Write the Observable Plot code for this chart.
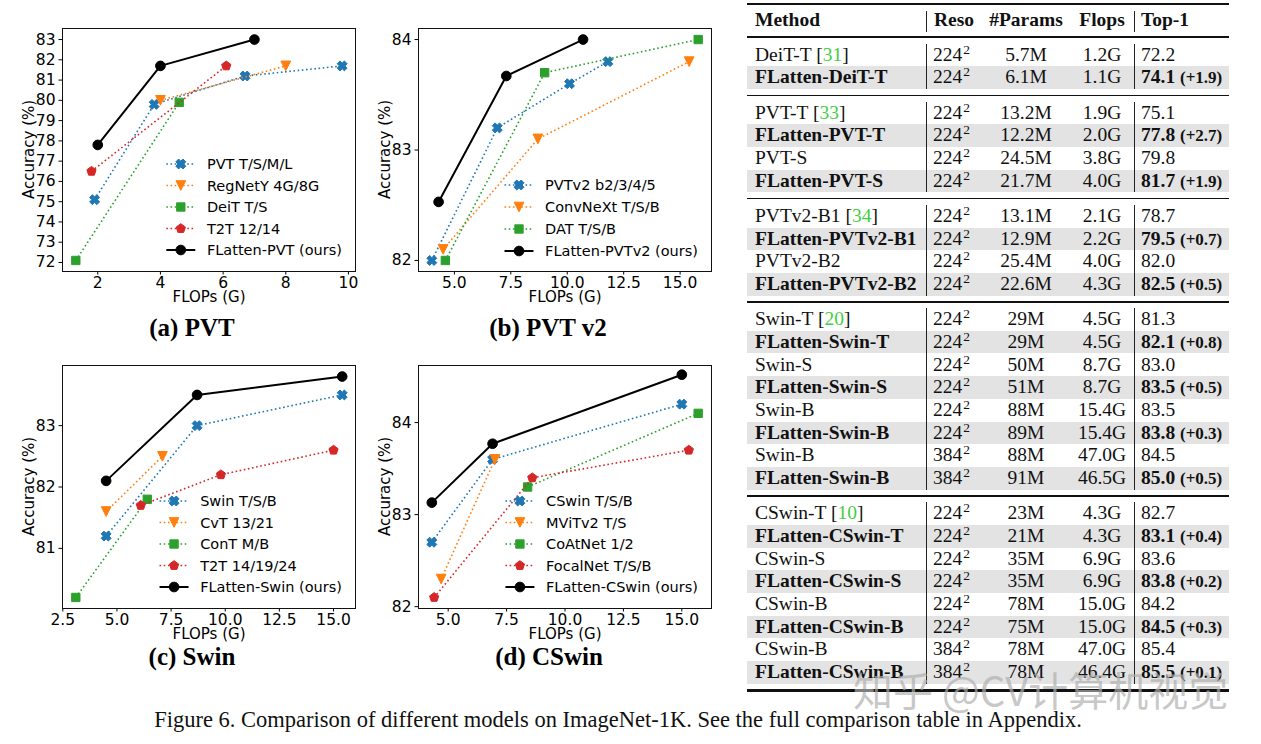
<!DOCTYPE html>
<html><head><meta charset="utf-8">
<script src="https://cdn.jsdelivr.net/npm/d3@7"></script>
<script src="https://cdn.jsdelivr.net/npm/@observablehq/plot@0.6"></script>
<style>
html,body{margin:0;padding:0;background:#fff;}
#page{position:relative;width:1261px;height:744px;overflow:hidden;background:#fff;}
.panel{position:absolute;}
.ptitle{position:absolute;font-family:"Liberation Serif","Times New Roman",serif;font-weight:bold;font-size:25px;transform:translate(-50%,-50%);white-space:nowrap;color:#000;}
.tc{position:absolute;font-family:"Liberation Serif","Times New Roman",serif;font-size:19.5px;color:#111;white-space:nowrap;}
.rule{position:absolute;background:#111;}
.shade{position:absolute;background:#e3e3e3;}
.vline{position:absolute;width:1px;background:#222;}
.caption{position:absolute;font-family:"Liberation Serif","Times New Roman",serif;font-size:22.5px;color:#111;white-space:nowrap;transform:translate(-50%,-50%);}
.wm{position:absolute;font-family:"Noto Sans CJK SC",sans-serif;font-size:40px;color:rgba(175,175,175,0.7);white-space:nowrap;transform:translateY(-50%);}
</style></head>
<body><div id="page"></div>
<script>
// ---------------- Panel (a) PVT ----------------
const aPvtFlops = [1.9, 3.8, 6.7, 9.8],  aPvtAcc = [75.1, 79.8, 81.2, 81.7];
const aRegFlops = [4.0, 8.0],            aRegAcc = [80.0, 81.7];
const aDeitFlops = [1.3, 4.6],           aDeitAcc = [72.1, 79.9];
const aT2tFlops = [1.8, 6.1],            aT2tAcc = [76.5, 81.7];
const aOursFlops = [2.0, 4.0, 7.0],      aOursAcc = [77.8, 81.7, 83.0];
const aLabels = ["PVT T/S/M/L", "RegNetY 4G/8G", "DeiT T/S", "T2T 12/14", "FLatten-PVT (ours)"];
const aXTicks = [2, 4, 6, 8, 10];
const aYTicks = [72, 73, 74, 75, 76, 77, 78, 79, 80, 81, 82, 83];

// ---------------- Panel (b) PVT v2 ----------------
const bPvt2Flops = [4.0, 6.9, 10.1, 11.8], bPvt2Acc = [82.0, 83.2, 83.6, 83.8];
const bCnxFlops = [4.5, 8.7, 15.4],        bCnxAcc = [82.1, 83.1, 83.8];
const bDatFlops = [4.6, 9.0, 15.8],        bDatAcc = [82.0, 83.7, 84.0];
const bOursFlops = [4.3, 7.3, 10.7],       bOursAcc = [82.53, 83.67, 84.0];
const bLabels = ["PVTv2 b2/3/4/5", "ConvNeXt T/S/B", "DAT T/S/B", "FLatten-PVTv2 (ours)"];
const bXTicks = [5, 7.5, 10, 12.5, 15];
const bYTicks = [82, 83, 84];

// ---------------- Panel (c) Swin ----------------
const cSwinFlops = [4.5, 8.7, 15.4],  cSwinAcc = [81.2, 83.0, 83.5];
const cCvtFlops = [4.5, 7.1],         cCvtAcc = [81.6, 82.5];
const cContFlops = [3.1, 6.4],        cContAcc = [80.2, 81.8];
const cT2tFlops = [6.1, 9.8, 15.0],   cT2tAcc = [81.7, 82.2, 82.6];
const cOursFlops = [4.5, 8.7, 15.4],  cOursAcc = [82.1, 83.5, 83.8];
const cLabels = ["Swin T/S/B", "CvT 13/21", "ConT M/B", "T2T 14/19/24", "FLatten-Swin (ours)"];
const cXTicks = [2.5, 5, 7.5, 10, 12.5, 15];
const cYTicks = [81, 82, 83];

// ---------------- Panel (d) CSwin ----------------
const dCswinFlops = [4.3, 6.9, 15.0],   dCswinAcc = [82.7, 83.6, 84.2];
const dMvitFlops = [4.7, 7.0],          dMvitAcc = [82.3, 83.6];
const dCoatFlops = [8.4, 15.7],         dCoatAcc = [83.3, 84.1];
const dFocalFlops = [4.4, 8.6, 15.3],   dFocalAcc = [82.1, 83.4, 83.7];
const dOursFlops = [4.3, 6.9, 15.0],    dOursAcc = [83.13, 83.77, 84.52];
const dLabels = ["CSwin T/S/B", "MViTv2 T/S", "CoAtNet 1/2", "FocalNet T/S/B", "FLatten-CSwin (ours)"];
const dXTicks = [5, 7.5, 10, 12.5, 15];
const dYTicks = [82, 83, 84];

// ---------------- Table ----------------
const tMethods = ["DeiT-T","FLatten-DeiT-T","PVT-T","FLatten-PVT-T","PVT-S","FLatten-PVT-S",
  "PVTv2-B1","FLatten-PVTv2-B1","PVTv2-B2","FLatten-PVTv2-B2",
  "Swin-T","FLatten-Swin-T","Swin-S","FLatten-Swin-S","Swin-B","FLatten-Swin-B","Swin-B","FLatten-Swin-B",
  "CSwin-T","FLatten-CSwin-T","CSwin-S","FLatten-CSwin-S","CSwin-B","FLatten-CSwin-B","CSwin-B","FLatten-CSwin-B"];
const tCites = ["31","","33","","","","34","","","","20","","","","","","","","10","","","","","","",""];
const tReso = ["224","224","224","224","224","224","224","224","224","224","224","224","224","224","224","224","384","384",
  "224","224","224","224","224","224","384","384"];
const tParams = ["5.7M","6.1M","13.2M","12.2M","24.5M","21.7M","13.1M","12.9M","25.4M","22.6M",
  "29M","29M","50M","51M","88M","89M","88M","91M","23M","21M","35M","35M","78M","75M","78M","78M"];
const tFlops = ["1.2G","1.1G","1.9G","2.0G","3.8G","4.0G","2.1G","2.2G","4.0G","4.3G",
  "4.5G","4.5G","8.7G","8.7G","15.4G","15.4G","47.0G","46.5G","4.3G","4.3G","6.9G","6.9G","15.0G","15.0G","47.0G","46.4G"];
const tTop1 = ["72.2","74.1","75.1","77.8","79.8","81.7","78.7","79.5","82.0","82.5",
  "81.3","82.1","83.0","83.5","83.5","83.8","84.5","85.0","82.7","83.1","83.6","83.8","84.2","84.5","85.4","85.5"];
const tGain = ["","+1.9","","+2.7","","+1.9","","+0.7","","+0.5",
  "","+0.8","","+0.5","","+0.3","","+0.5","","+0.4","","+0.2","","+0.3","","+0.1"];
const tGroups = [2, 4, 4, 8, 8];
const tHeader = ["Method", "Reso", "#Params", "Flops", "Top-1"];

const captionText = "Figure 6. Comparison of different models on ImageNet-1K. See the full comparison table in Appendix.";
const watermarkText = "知乎 @CV计算机视觉";

// ---------------- symbols ----------------
function poly(ctx, pts){ ctx.moveTo(pts[0][0], pts[0][1]); for (let i = 1; i < pts.length; i++) ctx.lineTo(pts[i][0], pts[i][1]); ctx.closePath(); }
const symX = {draw(ctx, size){ const r = Math.sqrt(size/Math.PI); const L = r*1.15, w = r*0.45;
  const base = [[w,-L],[w,-w],[L,-w],[L,w],[w,w],[w,L],[-w,L],[-w,w],[-L,w],[-L,-w],[-w,-w],[-w,-L]];
  const c = Math.SQRT1_2; poly(ctx, base.map(([x,y]) => [c*(x-y), c*(x+y)])); }};
const symTriDown = {draw(ctx, size){ const r = Math.sqrt(size/Math.PI)*1.1; poly(ctx, [[0,r],[-r,-r],[r,-r]]); }};
const symSquare = {draw(ctx, size){ const r = Math.sqrt(size/Math.PI)*0.95; poly(ctx, [[-r,-r],[r,-r],[r,r],[-r,r]]); }};
const symPent = {draw(ctx, size){ const r = Math.sqrt(size/Math.PI)*1.1; const pts = [];
  for (let k = 0; k < 5; k++){ const a = -Math.PI/2 + k*2*Math.PI/5; pts.push([r*Math.cos(a), r*Math.sin(a)]); } poly(ctx, pts); }};
const symCircle = {draw(ctx, size){ const r = Math.sqrt(size/Math.PI)*1.1; ctx.moveTo(r, 0); ctx.arc(0, 0, r, 0, 2*Math.PI); }};

const BLUE = "#1f77b4", ORANGE = "#ff7f0e", GREEN = "#2ca02c", RED = "#d62728", BLACK = "#000000";
const STYLES = [[BLUE, symX], [ORANGE, symTriDown], [GREEN, symSquare], [RED, symPent]];

function series(xs, ys, label, idx, ours){
  const [color, sym] = ours ? [BLACK, symCircle] : STYLES[idx];
  return {pts: xs.map((x, i) => ({x, y: ys[i]})), label, color, sym, ours};
}

const fmt1 = d3.format(".1f"), fmtD = d3.format("d");
const panels = [
  {left: 0, top: 0, title: "(a) PVT", tx: 192, ty: 328,
   xDomain: [0.875, 10.225], yDomain: [71.555, 83.545], xTicks: aXTicks, yTicks: aYTicks, xFormat: fmtD,
   series: [series(aPvtFlops, aPvtAcc, aLabels[0], 0), series(aRegFlops, aRegAcc, aLabels[1], 1),
            series(aDeitFlops, aDeitAcc, aLabels[2], 2), series(aT2tFlops, aT2tAcc, aLabels[3], 3),
            series(aOursFlops, aOursAcc, aLabels[4], 0, true)], legendSpacing: 21.5, legendBottom: 21},
  {left: 356, top: 0, title: "(b) PVT v2", tx: 548, ty: 328,
   xDomain: [3.41, 16.39], yDomain: [81.9, 84.1], xTicks: bXTicks, yTicks: bYTicks, xFormat: fmt1,
   series: [series(bPvt2Flops, bPvt2Acc, bLabels[0], 0), series(bCnxFlops, bCnxAcc, bLabels[1], 1),
            series(bDatFlops, bDatAcc, bLabels[2], 2), series(bOursFlops, bOursAcc, bLabels[3], 0, true)],
   legendSpacing: 22, legendBottom: 20},
  {left: 0, top: 337, title: "(c) Swin", tx: 192, ty: 657,
   xDomain: [2.485, 16.015], yDomain: [80.02, 83.98], xTicks: cXTicks, yTicks: cYTicks, xFormat: fmt1,
   series: [series(cSwinFlops, cSwinAcc, cLabels[0], 0), series(cCvtFlops, cCvtAcc, cLabels[1], 1),
            series(cContFlops, cContAcc, cLabels[2], 2), series(cT2tFlops, cT2tAcc, cLabels[3], 3),
            series(cOursFlops, cOursAcc, cLabels[4], 0, true)], legendSpacing: 21.5, legendBottom: 21},
  {left: 356, top: 337, title: "(d) CSwin", tx: 549, ty: 657,
   xDomain: [3.73, 16.27], yDomain: [81.98, 84.62], xTicks: dXTicks, yTicks: dYTicks, xFormat: fmt1,
   series: [series(dCswinFlops, dCswinAcc, dLabels[0], 0), series(dMvitFlops, dMvitAcc, dLabels[1], 1),
            series(dCoatFlops, dCoatAcc, dLabels[2], 2), series(dFocalFlops, dFocalAcc, dLabels[3], 3),
            series(dOursFlops, dOursAcc, dLabels[4], 0, true)], legendSpacing: 21.5, legendBottom: 21}
];

const page = document.getElementById("page");
const canvas = document.createElement("canvas");
const mctx = canvas.getContext("2d");
const FONT = '"DejaVu Sans", sans-serif';
const LEG_FS = 14.5;
mctx.font = `${LEG_FS}px "DejaVu Sans"`;

const W = 370, H = 310, ML = 62, MT = 28, MR = 15, MB = 39;
const MARK_R = 4.4;

for (const p of panels){
  const marks = [
    Plot.axisX({ticks: p.xTicks, tickFormat: p.xFormat, tickSize: 3.5, tickPadding: 1.5, label: null, fontSize: 15.5}),
    Plot.axisY({ticks: p.yTicks, tickFormat: fmtD, tickSize: 3.5, tickPadding: 3.5, label: null, fontSize: 15.5})
  ];
  for (const s of p.series){
    marks.push(Plot.line(s.pts, {x: "x", y: "y", stroke: s.color, strokeWidth: s.ours ? 2 : 1.6,
      strokeDasharray: s.ours ? null : "1.6,2.6", strokeLinecap: "butt"}));
    marks.push(Plot.dot(s.pts, {x: "x", y: "y", symbol: s.sym, r: MARK_R, fill: s.color, stroke: s.color, strokeWidth: 1}));
  }
  marks.push(Plot.frame({stroke: "#111", strokeWidth: 1}));
  marks.push(Plot.text(["FLOPs (G)"], {text: d => d, frameAnchor: "bottom", dy: 30, fontSize: 15}));

  const plot = Plot.plot({
    width: W, height: H, marginLeft: ML, marginTop: MT, marginRight: MR, marginBottom: MB,
    x: {domain: p.xDomain}, y: {domain: p.yDomain},
    style: {fontFamily: FONT, fontSize: "14.5px", color: "#000", background: "transparent", overflow: "visible"},
    marks
  });

  const svg = d3.select(plot);
  // y axis label
  svg.append("text").attr("transform", `translate(29,${(MT + H - MB)/2}) rotate(-90)`)
    .attr("text-anchor", "middle").attr("dy", "0.35em").attr("font-size", 15).attr("fill", "#000")
    .text("Accuracy (%)");

  // legend (lower right, no frame)
  const fr = {right: W - MR, bottom: H - MB};
  const maxW = d3.max(p.series, s => mctx.measureText(s.label).width);
  const textX = fr.right - 0.9*LEG_FS - maxW;
  const n = p.series.length;
  const lg = svg.append("g");
  p.series.forEach((s, i) => {
    const yy = fr.bottom - p.legendBottom - (n - 1 - i)*p.legendSpacing;
    const x2 = textX - 0.8*LEG_FS, x1 = x2 - 2*LEG_FS, xm = (x1 + x2)/2;
    lg.append("line").attr("x1", x1).attr("x2", x2).attr("y1", yy).attr("y2", yy)
      .attr("stroke", s.color).attr("stroke-width", s.ours ? 2 : 1.6)
      .attr("stroke-dasharray", s.ours ? null : "1.6,2.6");
    lg.append("path").attr("d", d3.symbol(s.sym, MARK_R*MARK_R*Math.PI)())
      .attr("transform", `translate(${xm},${yy})`).attr("fill", s.color).attr("stroke", s.color).attr("stroke-width", 1);
    lg.append("text").attr("x", textX).attr("y", yy).attr("dy", "0.35em").attr("text-anchor", "start")
      .attr("font-size", LEG_FS).attr("fill", "#000").text(s.label);
  });

  const wrap = document.createElement("div");
  wrap.className = "panel";
  wrap.style.left = p.left + "px"; wrap.style.top = p.top + "px";
  wrap.appendChild(plot);
  page.appendChild(wrap);

  const t = document.createElement("div");
  t.className = "ptitle"; t.textContent = p.title;
  t.style.left = p.tx + "px"; t.style.top = p.ty + "px";
  page.appendChild(t);
}

// ---------------- table ----------------
const TL = 747, TR = 1229, ROWH = 22.7, FIRST = 43.6, GAP = 12.5;
const colMethod = 755, colReso = 933, colParams = 1026, colFlops = 1102, colTop = 1141;
const vl1 = 926, vl2 = 1134;

function el(cls, css, html){ const d = document.createElement("div"); d.className = cls; d.style.cssText = css; if (html != null) d.innerHTML = html; page.appendChild(d); return d; }
function cell(html, x, yc, align, bold){
  const tr = align === "center" ? "transform:translateX(-50%);" : "";
  return el("tc", `left:${x}px;top:${yc - ROWH/2}px;height:${ROWH}px;line-height:${ROWH}px;${tr}${bold ? "font-weight:bold;" : ""}`, html);
}
function rule(y, h){ el("rule", `left:${TL}px;width:${TR - TL}px;top:${y - h/2}px;height:${h}px;`); }

// header
rule(4, 2.4);
cell(tHeader[0], colMethod, 20, "left", true);
cell(tHeader[1], colReso + 1, 20, "left", true);
cell(tHeader[2], colParams, 20, "center", true);
cell(tHeader[3], colFlops, 20, "center", true);
cell(tHeader[4], colTop, 20, "left", true);
el("vline", `left:${vl1}px;top:11px;height:21px;`);
el("vline", `left:${vl2}px;top:11px;height:21px;`);
rule(37, 1.4);

// rows
let rowIdx = 0;
tGroups.forEach((size, g) => {
  const gTop = FIRST + rowIdx*ROWH + g*GAP;
  for (let k = 0; k < size; k++){
    const i = rowIdx + k;
    const top = gTop + k*ROWH, yc = top + ROWH/2;
    const ours = tMethods[i].startsWith("FLatten");
    if (ours) el("shade", `left:${TL}px;width:${TR - TL}px;top:${top}px;height:${ROWH}px;`);
    const cite = tCites[i] ? ` [<span style="color:#3fcf3f">${tCites[i]}</span>]` : "";
    cell(tMethods[i] + cite, colMethod, yc, "left", ours);
    cell(`${tReso[i]}<span style="font-size:13.5px;position:relative;top:-7px;margin-left:1px">2</span>`, colReso, yc, "left", false);
    cell(tParams[i], colParams, yc, "center", false);
    cell(tFlops[i], colFlops, yc, "center", false);
    const gain = tGain[i] ? ` <span style="font-size:17px">(${tGain[i]})</span>` : "";
    cell(tTop1[i] + gain, colTop, yc, "left", ours);
  }
  el("vline", `left:${vl1}px;top:${gTop}px;height:${size*ROWH}px;`);
  el("vline", `left:${vl2}px;top:${gTop}px;height:${size*ROWH}px;`);
  rowIdx += size;
  const sepY = gTop + size*ROWH + GAP/2;
  if (g < tGroups.length - 1) rule(sepY, 1.4);
  else rule(sepY + 0.5, 2.4);
});

// watermark & caption
el("wm", `left:853px;top:689px;`, watermarkText);
el("caption", `left:618px;top:720px;`, captionText);
</script>
</body></html>
